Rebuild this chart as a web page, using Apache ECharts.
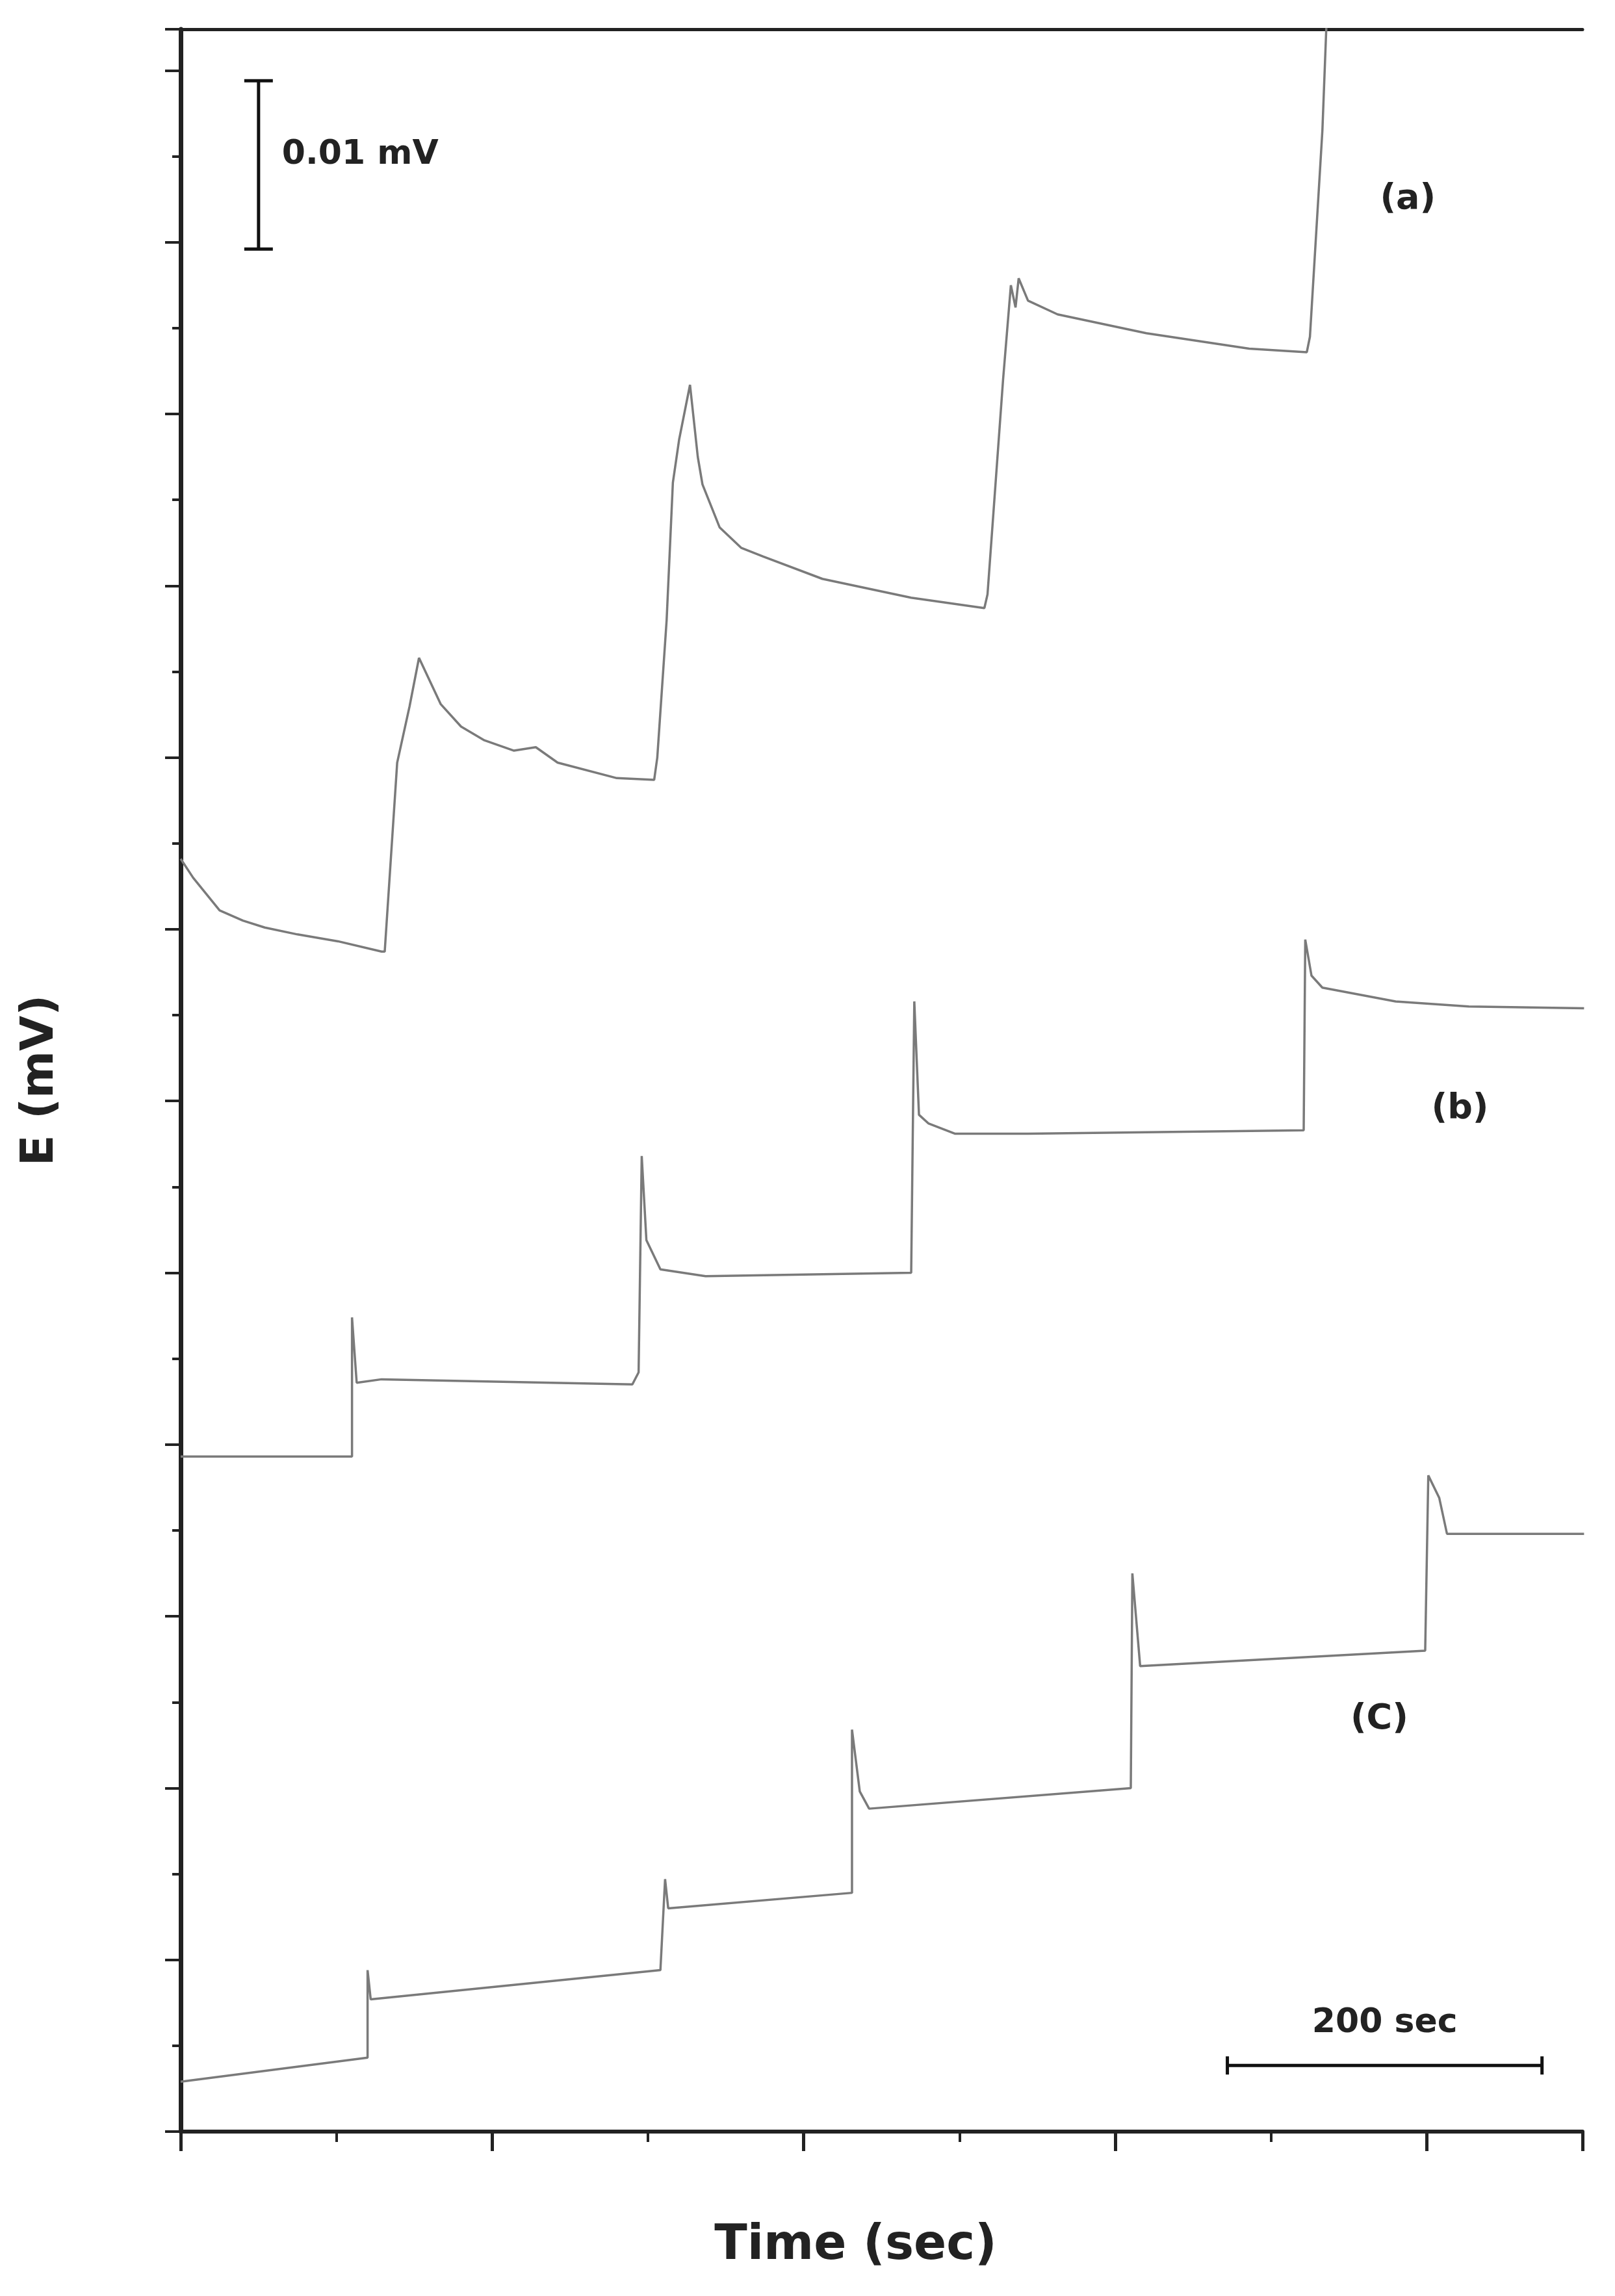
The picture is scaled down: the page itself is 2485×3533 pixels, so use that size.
<!DOCTYPE html>
<html><head><meta charset="utf-8">
<script src="https://cdn.jsdelivr.net/npm/echarts@6/dist/echarts.min.js"></script>
<style>html,body{margin:0;padding:0;background:#fff}#c{width:2485px;height:3533px}</style>
</head><body><div id="c"></div>
<script>
const seriesA = [[0,0.0741],[8,0.0730],[25,0.0711],[40,0.0705],[54,0.0701],[75,0.0697],[101,0.0693],[129,0.0687],[131,0.0687],[139,0.0797],[147,0.0830],[153,0.0858],[167,0.0831],[180,0.0818],[195,0.0810],[214,0.0804],[228,0.0806],[242,0.0797],[280,0.0788],[304,0.0787],[306,0.0800],[312,0.0880],[316,0.0960],[320,0.0985],[327,0.1017],[332,0.0975],[335,0.0959],[346,0.0934],[360,0.0922],[374,0.0917],[412,0.0904],[469,0.0893],[516,0.0887],[518,0.0895],[528,0.1020],[533,0.1075],[536,0.1062],[538,0.1079],[544,0.1066],[563,0.1058],[620,0.1047],[686,0.1038],[723,0.1036],[725,0.1045],[733,0.1165],[737,0.1260]];
const seriesB = [[0,0.0393],[110,0.0393],[110,0.0474],[113,0.0436],[129,0.0438],[290,0.0435],[294,0.0442],[296,0.0568],[299,0.0519],[308,0.0502],[337,0.0498],[469,0.0500],[471,0.0658],[474,0.0592],[480,0.0587],[497,0.0581],[544,0.0581],[721,0.0583],[722,0.0694],[726,0.0673],[733,0.0666],[780,0.0658],[827,0.0655],[901,0.0654]];
const seriesC = [[0,0.0029],[120,0.0043],[120,0.0094],[122,0.0077],[308,0.0094],[311,0.0147],[313,0.0130],[431,0.0139],[431,0.0234],[436,0.0198],[442,0.0188],[610,0.0200],[611,0.0325],[616,0.0271],[799,0.0280],[801,0.0382],[808,0.0369],[813,0.0348],[901,0.0348]];
const labels = [{t:'(a)',x:770,v:0.1125},{t:'(b)',x:803,v:0.0595},{t:'(C)',x:751,v:0.0240}];
const scaleV = {t:50,v1:0.1096,v2:0.1194,label:'0.01 mV'};
const scaleT = {t1:672,t2:874,v:0.00385,label:'200 sec'};

const chart = echarts.init(document.getElementById('c'));
const lineStyle = {color:'#7a7a7a',width:3.5};
const mk = d => ({type:'line',data:d,showSymbol:false,symbol:'none',lineStyle,animation:false,clip:true});
chart.setOption({
  animation:false,
  grid:{left:278,right:50,top:45,bottom:253},
  xAxis:[{type:'value',min:0,max:900,interval:200,
    axisLine:{lineStyle:{color:'#222',width:6}},
    axisTick:{length:30,inside:false,lineStyle:{color:'#222',width:5}},
    minorTick:{show:true,splitNumber:2,length:16,lineStyle:{color:'#222',width:4}},
    axisLabel:{show:false},splitLine:{show:false},
    name:'Time (sec)',nameLocation:'middle',nameGap:140,
    nameTextStyle:{fontFamily:'DejaVu Sans',fontWeight:'bold',fontSize:74,color:'#222',padding:[0,80,0,0]}},
   {type:'value',position:'top',min:0,max:900,axisLine:{show:true,lineStyle:{color:'#222',width:5}},axisTick:{show:false},axisLabel:{show:false},splitLine:{show:false}}],
  yAxis:{type:'value',min:0,max:0.1224,interval:0.01,
    axisLine:{show:true,lineStyle:{color:'#222',width:7}},
    axisTick:{length:24,lineStyle:{color:'#222',width:4}},
    minorTick:{show:true,splitNumber:2,length:13,lineStyle:{color:'#222',width:4}},
    axisLabel:{show:false},splitLine:{show:false},
    name:'E (mV)',nameLocation:'middle',nameGap:180,nameRotate:90,
    nameTextStyle:{fontFamily:'DejaVu Sans',fontWeight:'bold',fontSize:70,color:'#222'}},
  series:[mk(seriesA),mk(seriesB),mk(seriesC)]
});
const P = (t,v)=>chart.convertToPixel({xAxisIndex:0,yAxisIndex:0},[t,v]);
const g = [];
labels.forEach(l=>{const p=P(l.x,l.v);g.push({type:'text',x:p[0],y:p[1],style:{text:l.t,fontFamily:'DejaVu Sans',fontWeight:'bold',fontSize:54,fill:'#222',align:'left',verticalAlign:'middle'}});});
const a=P(scaleV.t,scaleV.v1), b=P(scaleV.t,scaleV.v2);
const ls={stroke:'#111',lineWidth:5};
g.push({type:'line',shape:{x1:a[0],y1:a[1],x2:b[0],y2:b[1]},style:ls});
g.push({type:'line',shape:{x1:a[0]-22,y1:a[1],x2:a[0]+22,y2:a[1]},style:ls});
g.push({type:'line',shape:{x1:b[0]-22,y1:b[1],x2:b[0]+22,y2:b[1]},style:ls});
g.push({type:'text',x:a[0]+36,y:(a[1]+b[1])/2-15,style:{text:scaleV.label,fontFamily:'DejaVu Sans',fontWeight:'bold',fontSize:52,fill:'#222',verticalAlign:'middle'}});
const c=P(scaleT.t1,scaleT.v), d=P(scaleT.t2,scaleT.v);
g.push({type:'line',shape:{x1:c[0],y1:c[1],x2:d[0],y2:d[1]},style:ls});
g.push({type:'line',shape:{x1:c[0],y1:c[1]-14,x2:c[0],y2:c[1]+14},style:ls});
g.push({type:'line',shape:{x1:d[0],y1:d[1]-14,x2:d[0],y2:d[1]+14},style:ls});
g.push({type:'text',x:(c[0]+d[0])/2,y:c[1]-65,style:{text:scaleT.label,fontFamily:'DejaVu Sans',fontWeight:'bold',fontSize:52,fill:'#222',align:'center',verticalAlign:'middle'}});
chart.setOption({graphic:g});
</script></body></html>
